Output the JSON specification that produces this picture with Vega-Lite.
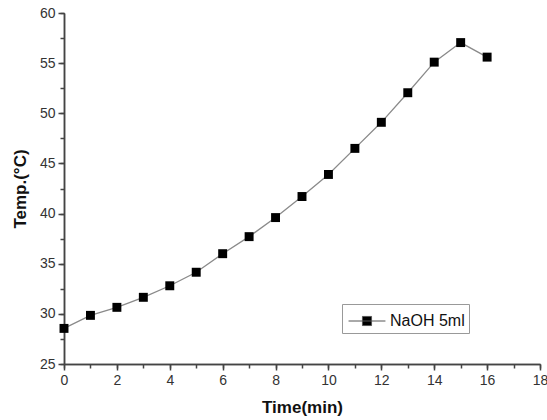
{
  "$schema": "https://vega.github.io/schema/vega-lite/v6.json",
  "autosize": "none",
  "width": 476,
  "height": 351,
  "padding": {"left": 64, "top": 13, "right": 7, "bottom": 56},
  "background": "white",
  "config": {
    "view": {"stroke": null},
    "font": "Liberation Sans",
    "axis": {"grid": false, "labelFlush": false, "domainColor": "#444", "tickColor": "#444", "domainWidth": 1.5, "tickWidth": 1.5, "labelColor": "#333", "labelFontSize": 13, "titleFontSize": 17, "titleFontWeight": "bold", "titleColor": "#111"}
  },
  "resolve": {"axis": {"x": "independent", "y": "independent"}},
  "data": {"values": [
    {"t": 0, "temp": 28.55, "s": "NaOH 5ml"},
    {"t": 1, "temp": 29.85, "s": "NaOH 5ml"},
    {"t": 2, "temp": 30.65, "s": "NaOH 5ml"},
    {"t": 3, "temp": 31.65, "s": "NaOH 5ml"},
    {"t": 4, "temp": 32.8, "s": "NaOH 5ml"},
    {"t": 5, "temp": 34.15, "s": "NaOH 5ml"},
    {"t": 6, "temp": 36.0, "s": "NaOH 5ml"},
    {"t": 7, "temp": 37.7, "s": "NaOH 5ml"},
    {"t": 8, "temp": 39.6, "s": "NaOH 5ml"},
    {"t": 9, "temp": 41.7, "s": "NaOH 5ml"},
    {"t": 10, "temp": 43.9, "s": "NaOH 5ml"},
    {"t": 11, "temp": 46.5, "s": "NaOH 5ml"},
    {"t": 12, "temp": 49.1, "s": "NaOH 5ml"},
    {"t": 13, "temp": 52.05, "s": "NaOH 5ml"},
    {"t": 14, "temp": 55.1, "s": "NaOH 5ml"},
    {"t": 15, "temp": 57.05, "s": "NaOH 5ml"},
    {"t": 16, "temp": 55.6, "s": "NaOH 5ml"}
  ]},
  "layer": [
    {
      "mark": {"type": "line", "color": "#8a8a8a", "strokeWidth": 1.3},
      "encoding": {
        "x": {"field": "t", "type": "quantitative", "scale": {"domain": [0, 18], "nice": false}, "axis": {"orient": "bottom", "values": [0,1,2,3,4,5,6,7,8,9,10,11,12,13,14,15,16,17,18], "labels": false, "tickSize": 4, "title": null}},
        "y": {"field": "temp", "type": "quantitative", "scale": {"domain": [25, 60], "nice": false, "zero": false}, "axis": {"orient": "left", "values": [25,27.5,30,32.5,35,37.5,40,42.5,45,47.5,50,52.5,55,57.5,60], "labels": false, "tickSize": 4, "title": null}}
      }
    },
    {
      "mark": {"type": "square", "color": "black", "opacity": 1, "size": 80},
      "encoding": {
        "x": {"field": "t", "type": "quantitative", "axis": {"orient": "bottom", "values": [0,2,4,6,8,10,12,14,16,18], "tickSize": 6, "labelPadding": 3, "labelFontSize": 14, "title": "Time(min)", "titlePadding": 12}},
        "y": {"field": "temp", "type": "quantitative", "axis": {"orient": "left", "values": [25,30,35,40,45,50,55,60], "tickSize": 6, "labelPadding": 3, "labelFontSize": 14, "title": "Temp.(°C)", "titlePadding": 10}},
        "fill": {"field": "s", "type": "nominal", "scale": {"range": ["black"]}, "legend": {"title": null, "orient": "none", "legendX": 278, "legendY": 291, "strokeColor": "#999", "padding": 4, "labelFontSize": 16, "labelColor": "#111", "symbolType": "M-1.5,0H1.5M-0.37,-0.37H0.37V0.37H-0.37Z", "symbolSize": 605, "symbolStrokeColor": "#555", "symbolStrokeWidth": 1, "symbolFillColor": "black", "symbolOffset": 8, "labelOffset": 10}}
      }
    }
  ]
}
